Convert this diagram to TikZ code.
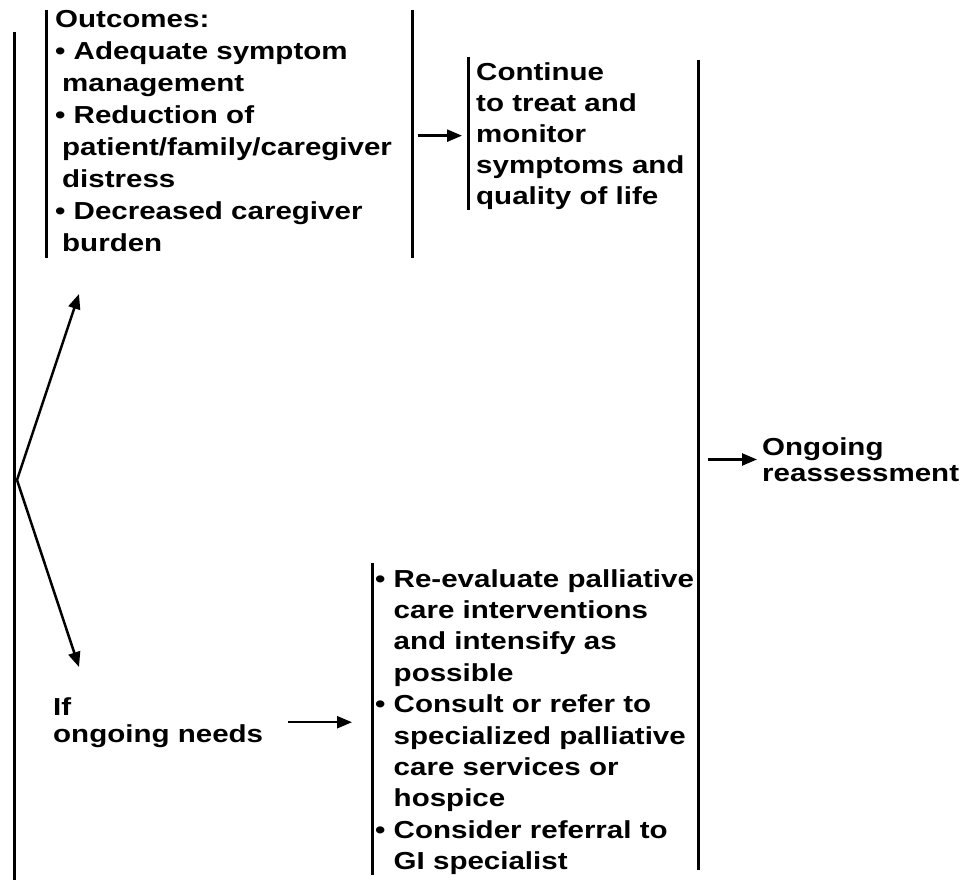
\documentclass[tikz,border=0pt]{standalone}
\usepackage{fontspec}
\setmainfont{Liberation Sans}[FakeStretch=1.2]
\usetikzlibrary{arrows.meta,positioning,calc}
\newcommand{\sind}{\hspace*{7pt}}
\newcommand{\bind}{\hphantom{• }}

\begin{document}
\begin{tikzpicture}[x=1pt, y=-1pt,
    txt/.style={inner sep=0pt, anchor=north west, align=left, font=\fontsize{24.6}{#1}\selectfont\bfseries},
    bar/.style={line width=3pt},
    arr/.style={line width=2.5pt, -{Triangle[length=15pt, width=12pt]}}]

                \useasboundingbox (0, 0) rectangle (976, 880);

                % Nodes
                \node[txt=32] at (55, 10) (outc) {Outcomes:\\• Adequate symptom\\\sind management\\• Reduction of\\\sind patient/family/caregiver\\\sind distress\\• Decreased caregiver\\\sind burden};
                \node[txt=31] at (476, 62) (cont) {Continue\\to treat and\\monitor\\symptoms and\\quality of life};
                \node[txt=26.5] at (762, 437) (reas) {Ongoing\\reassessment};
                \node[txt=27] at (53, 697) (ifn) {If\\ongoing needs};
                \node[txt=31.4] at (375, 569) (reev) {• Re-evaluate palliative\\\bind care interventions\\\bind and intensify as\\\bind possible\\• Consult or refer to\\\bind specialized palliative\\\bind care services or\\\bind hospice\\• Consider referral to\\\bind GI specialist};

                % Bars
                \coordinate (ltop) at (14, 32);   \coordinate (lbot) at (14, 880);
                \coordinate (obl) at (46, 10);    \coordinate (obr) at (412, 10);
                \coordinate (cbar) at (468, 57);
                \coordinate (rtop) at (698, 60);  \coordinate (rbot) at (698, 870);
                \coordinate (bbar) at (372, 563);
                \coordinate (fork) at (17, 480);
                \coordinate (up) at (79, 294);
                \coordinate (dn) at (79, 667);

                \draw[bar] (ltop) -- (lbot);
                \draw[bar] (obl) -- ++(0, 248);
                \draw[bar] (obr) -- ++(0, 248);
                \draw[bar] (cbar) -- ++(0, 153);
                \draw[bar] (rtop) -- (rbot);
                \draw[bar] (bbar) -- ++(0, 312);

                \draw[arr] (fork) -- (up);
                \draw[arr] (fork) -- (dn);
                \draw[arr, shorten <=6pt, shorten >=14pt] (obr |- cont.west) -- (cont.west);
                \draw[arr, shorten <=10pt, shorten >=5pt] (rtop |- reas.west) -- (reas.west);
                \draw[arr, shorten <=25pt, shorten >=20pt] (ifn.east) -- (bbar |- ifn.east);

            \end{tikzpicture}
\end{document}
